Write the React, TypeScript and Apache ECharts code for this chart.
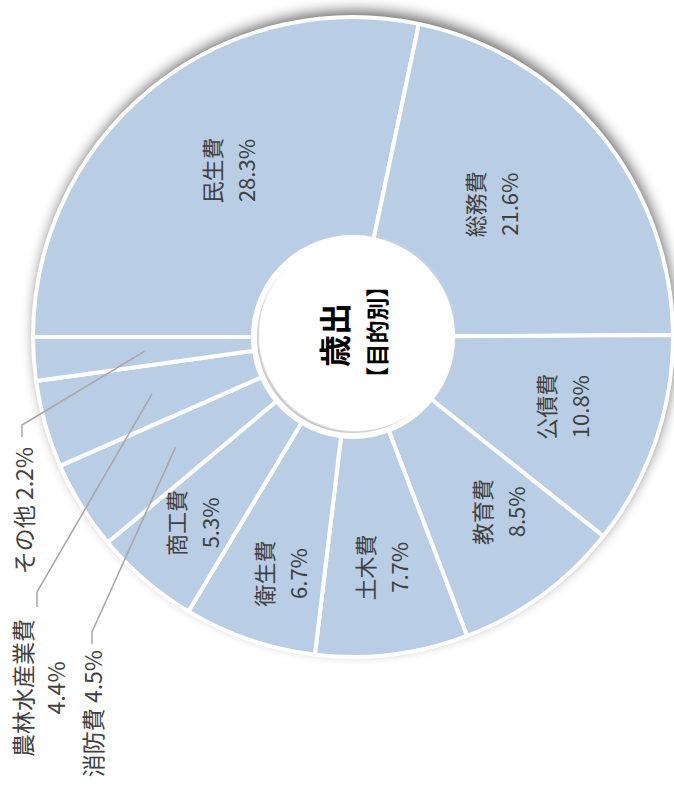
import React, { useEffect, useRef } from 'react';
import * as echarts from 'echarts';

// ---- data ----
const categories = ['民生費', '総務費', '公債費', '教育費', '土木費', '衛生費', '商工費', '消防費', '農林水産業費', 'その他'];
const shares = [28.3, 21.6, 10.8, 8.5, 7.7, 6.7, 5.3, 4.5, 4.4, 2.2];
const outsideNames = ['消防費', '農林水産業費', 'その他'];
const twoLineOutside = ['農林水産業費'];
const centerTitle = '歳出';
const centerSubtitle = '【目的別】';

// ---- layout (chart frame before the 90° turn) ----
const W = 789;
const H = 674;
const CX = 452;
const CY = 353;
const FONT = '"Noto Sans CJK JP", "Noto Sans", sans-serif';

// nudges of the inside labels (best-fit placement of the original)
const insideNudge: Record<string, [number, number]> = {
  '民生費': [1, 9],
  '総務費': [-2, -27],
  '公債費': [0, 8],
  '教育費': [-3, 19],
  '土木費': [-19, 2],
  '衛生費': [-35, -4],
  '商工費': [-24, -23],
};

const outsideLayout: Record<string, { x: number; y: number; align: string; knee: number; end: number; lineY: number }> = {
  'その他': { x: 342, y: 23, align: 'right', knee: 364, end: 352, lineY: 22 },
  '農林水産業費': { x: 101, y: 38, align: 'center', knee: 197, end: 182, lineY: 37 },
  '消防費': { x: 139, y: 92, align: 'right', knee: 157, end: 145, lineY: 92 },
};

const total = shares.reduce((a, b) => a + b, 0);

function buildOption() {
  return {
    animation: false,
    backgroundColor: '#ffffff',
    series: [
      // shadow ring under the slices
      {
        type: 'pie',
        center: [CX, CY],
        radius: [100, 320],
        silent: true,
        z: 1,
        label: { show: false },
        labelLine: { show: false },
        itemStyle: {
          color: '#ffffff',
          shadowBlur: 14,
          shadowColor: 'rgba(0,0,0,0.6)',
          shadowOffsetX: 6,
          shadowOffsetY: 2,
        },
        data: [{ name: '', value: total }],
      },
      // main slices
      {
        type: 'pie',
        center: [CX, CY],
        radius: [100, 320],
        startAngle: 90,
        clockwise: true,
        silent: true,
        avoidLabelOverlap: false,
        z: 2,
        itemStyle: { color: '#b9cde5', borderColor: '#ffffff', borderWidth: 4 },
        label: {
          show: true,
          position: 'inside',
          formatter: '{b}\n{c}%',
          color: '#404040',
          fontSize: 22,
          lineHeight: 34,
          fontFamily: FONT,
        },
        labelLine: { show: false },
        labelLayout: (params: any) => {
          const n = insideNudge[categories[params.dataIndex]];
          return n ? { dx: n[0], dy: n[1] } : {};
        },
        data: categories.map((n, i) => ({
          name: n,
          value: shares[i],
          label: { show: !outsideNames.includes(n) },
        })),
      },
      // center hole
      {
        type: 'pie',
        center: [CX, CY],
        radius: [0, 100],
        silent: true,
        z: 3,
        label: { show: false },
        labelLine: { show: false },
        itemStyle: { color: '#ffffff' },
        data: [{ name: '', value: total }],
      },
      {
        type: 'pie',
        center: [CX, CY],
        radius: [0, 96],
        silent: true,
        z: 4,
        label: { show: false },
        labelLine: { show: false },
        itemStyle: {
          color: {
            type: 'radial', x: 0.5, y: 0.5, r: 0.5,
            colorStops: [
              { offset: 0, color: '#ffffff' },
              { offset: 0.86, color: '#f4f4f4' },
              { offset: 1, color: '#b8b8b8' },
            ],
          },
        },
        data: [{ name: '', value: total }],
      },
      {
        type: 'pie',
        center: [CX + 2.5, CY + 2.5],
        radius: [0, 96.5],
        silent: true,
        z: 5,
        label: { show: false },
        labelLine: { show: false },
        itemStyle: { color: '#ffffff', shadowBlur: 5, shadowColor: 'rgba(255,255,255,1)' },
        data: [{ name: '', value: total }],
      },
      // transparent ring carrying the leader lines of the small slices
      {
        type: 'pie',
        center: [CX, CY],
        radius: [0, 209],
        startAngle: 90,
        clockwise: true,
        silent: true,
        avoidLabelOverlap: false,
        z: 6,
        itemStyle: { color: 'rgba(0,0,0,0)', borderWidth: 0 },
        label: {
          show: true,
          position: 'outside',
          color: '#404040',
          fontSize: 23,
          lineHeight: 33,
          fontFamily: FONT,
          formatter: (p: any) => (twoLineOutside.includes(p.name) ? `${p.name}\n${p.value}%` : `${p.name} ${p.value}%`),
        },
        labelLine: { show: true, length: 10, length2: 10, lineStyle: { color: '#a6a6a6', width: 1.5 } },
        labelLayout: (params: any) => {
          const name = categories[params.dataIndex];
          const L = outsideLayout[name];
          if (!L || !params.labelLinePoints) return {};
          const p0 = params.labelLinePoints[0];
          return {
            x: L.x,
            y: L.y,
            align: L.align,
            verticalAlign: 'middle',
            labelLinePoints: [p0, [L.knee, L.lineY], [L.end, L.lineY]],
          };
        },
        data: categories.map((n, i) => ({
          name: n,
          value: shares[i],
          label: { show: outsideNames.includes(n) },
          labelLine: { show: outsideNames.includes(n) },
        })),
      },
    ],
    graphic: [
      {
        type: 'text',
        x: 454,
        y: 333,
        z: 100,
        style: {
          text: centerTitle,
          font: `bold 32px ${FONT}`,
          fill: '#000000',
          align: 'center',
          verticalAlign: 'middle',
          textAlign: 'center',
          textVerticalAlign: 'middle',
        },
      },
      {
        type: 'text',
        x: 457,
        y: 376,
        z: 100,
        style: {
          text: centerSubtitle,
          font: `bold 23px ${FONT}`,
          fill: '#000000',
          align: 'center',
          verticalAlign: 'middle',
          textAlign: 'center',
          textVerticalAlign: 'middle',
        },
      },
    ],
  };
}

export default function App() {
  const ref = useRef<HTMLDivElement>(null);
  useEffect(() => {
    if (!ref.current) return;
    const chart = echarts.init(ref.current, null, { renderer: 'svg', width: W, height: H });
    chart.setOption(buildOption() as any);
    return () => chart.dispose();
  }, []);
  return (
    <div style={{ position: 'fixed', left: 0, top: 0, width: H, height: W, overflow: 'hidden', background: '#ffffff' }}>
      <div
        ref={ref}
        style={{
          position: 'absolute',
          left: 0,
          top: 0,
          width: W,
          height: H,
          transformOrigin: '0 0',
          transform: `translateY(${W}px) rotate(-90deg)`,
        }}
      />
    </div>
  );
}
